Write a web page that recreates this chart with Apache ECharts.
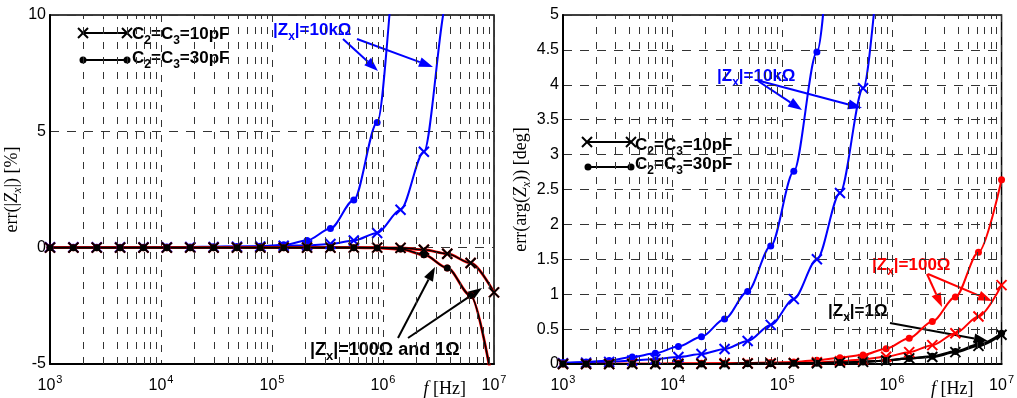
<!DOCTYPE html>
<html>
<head>
<meta charset="utf-8">
<script src="https://cdn.jsdelivr.net/npm/echarts@6/dist/echarts.min.js"></script>
<style>
html, body { margin: 0; padding: 0; background: #fff; }
#chart { width: 1017px; height: 398px; }
</style>
</head>
<body>
<div id="chart"></div>
<script>
// frequencies of the marked points [Hz]
const freq = [1000, 1624, 2637, 4281, 6952, 11288, 18330, 29764, 48329, 78476,
    127427, 206914, 335982, 545559, 885867, 1438450, 2335721, 3792690, 6158482, 10000000];

// left panel: err(|Zx|) [%]
const mag10k10pF = [0.02, 0.02, 0.02, 0.02, 0.02, 0.02, 0.03, 0.03, 0.04, 0.05, 0.08, 0.1, 0.16, 0.31, 0.63, 1.63, 4.12, 10.6, 27, 70];
const mag10k30pF = [0.02, 0.02, 0.02, 0.02, 0.02, 0.03, 0.03, 0.04, 0.05, 0.06, 0.12, 0.31, 0.82, 2.05, 5.38, 14, 36, 90, 230, 600];
// |Zx|=100 ohm and 1 ohm lie on top of each other
const magLow10pF = [0, 0, 0, 0, 0, 0, 0, 0, 0, 0, 0, 0, 0, 0, 0, -0.01, -0.09, -0.26, -0.66, -1.92];
const magLow30pF = [0, 0, 0, 0, 0, 0, 0, 0, 0, 0, 0, 0, 0, 0, -0.01, -0.06, -0.3, -0.87, -2.06, -6.2];

// right panel: err(arg(Zx)) [deg]
const ph10k10pF = [0.01, 0.02, 0.03, 0.05, 0.07, 0.1, 0.143, 0.215, 0.33, 0.56, 0.93, 1.5, 2.45, 3.95, 6.3, 10, 16, 26, 42, 68];
const ph10k30pF = [0.02, 0.03, 0.05, 0.1, 0.153, 0.25, 0.39, 0.645, 1.04, 1.69, 2.76, 4.47, 7.3, 12, 19, 31, 50, 80, 130, 210];
const ph100_10pF = [0, 0, 0, 0.005, 0.005, 0.005, 0.005, 0.01, 0.01, 0.01, 0.015, 0.025, 0.04, 0.065, 0.105, 0.17, 0.27, 0.44, 0.68, 1.13];
const ph100_30pF = [0, 0, 0.005, 0.005, 0.005, 0.01, 0.01, 0.01, 0.015, 0.02, 0.03, 0.055, 0.09, 0.13, 0.22, 0.37, 0.61, 0.96, 1.6, 2.64];
const ph1_10pF = [0, 0, 0, 0, 0, 0, 0, 0, 0.005, 0.005, 0.01, 0.01, 0.02, 0.03, 0.05, 0.08, 0.1, 0.17, 0.26, 0.42];
const ph1_30pF = [0, 0, 0, 0, 0, 0, 0, 0, 0.005, 0.005, 0.01, 0.01, 0.02, 0.03, 0.05, 0.08, 0.11, 0.18, 0.28, 0.44];

const BLUE = '#0000ff', RED = '#ff0000', BLACK = '#000000';
const crossPath = 'path://M0,0L10,10M10,0L0,10';

// dashed grid at 2..9 of every decade
const minorGrid = [];
for (let d = 1000; d < 1e7; d *= 10) {
    for (let k = 2; k <= 9; k++) minorGrid.push(k * d);
}

function curve(data, idx, color, mark, width) {
    const isX = mark === 'x';
    return {
        type: 'line',
        xAxisIndex: idx,
        yAxisIndex: idx,
        data: freq.map((f, i) => [f, data[i]]),
        smooth: 0.3,
        smoothMonotone: 'x',
        symbol: isX ? crossPath : 'circle',
        symbolSize: isX ? 10 : 7,
        showAllSymbol: true,
        clip: true,
        silent: true,
        lineStyle: {color: color, width: width},
        itemStyle: {color: color, borderColor: color, borderWidth: isX ? 2 : 0}
    };
}

function gridSeries(idx) {
    return {
        type: 'line',
        xAxisIndex: idx,
        yAxisIndex: idx,
        data: [],
        silent: true,
        markLine: {
            silent: true,
            symbol: ['none', 'none'],
            label: {show: false},
            lineStyle: {color: '#333', type: [7, 8], width: 1},
            data: minorGrid.map(v => ({xAxis: v}))
        }
    };
}

function xAxis(idx) {
    return {
        type: 'log',
        logBase: 10,
        gridIndex: idx,
        min: 1000,
        max: 1e7,
        splitNumber: 4,
        name: '{i|f} [Hz]',
        nameLocation: 'end',
        nameGap: -28,
        nameTextStyle: {
            fontFamily: 'Liberation Serif', fontSize: 18, color: '#000',
            align: 'right', verticalAlign: 'middle', padding: [50, 0, 0, 0],
            rich: {i: {fontFamily: 'Liberation Serif', fontSize: 18, fontStyle: 'italic', color: '#000'}}
        },
        axisLine: {show: true, onZero: false, lineStyle: {color: '#000', width: 2}},
        axisTick: {show: false},
        splitLine: {show: true, lineStyle: {color: '#333', type: [7, 8], width: 1}},
        axisLabel: {
            margin: 10,
            formatter: v => '{b|10}{e|' + Math.round(Math.log10(v)) + '}',
            rich: {
                b: {fontFamily: 'Liberation Sans', fontSize: 16, color: '#000', verticalAlign: 'bottom'},
                e: {fontFamily: 'Liberation Sans', fontSize: 11, color: '#000', verticalAlign: 'top', padding: [0, 0, 9, 1]}
            }
        }
    };
}

function yAxis(idx, min, max, interval, name, gap) {
    return {
        type: 'value',
        gridIndex: idx,
        min: min,
        max: max,
        interval: interval,
        name: name,
        nameLocation: 'middle',
        nameRotate: 90,
        nameGap: gap,
        nameTextStyle: {
            fontFamily: 'Liberation Serif', fontSize: 18, color: '#000',
            rich: {
                n: {fontFamily: 'Liberation Serif', fontSize: 18, color: '#000', verticalAlign: 'top'},
                i: {fontFamily: 'Liberation Serif', fontSize: 18, fontStyle: 'italic', color: '#000', verticalAlign: 'top'},
                s: {fontFamily: 'Liberation Serif', fontSize: 12, fontStyle: 'italic', color: '#000', verticalAlign: 'bottom', padding: [9, 0, 0, 0]}
            }
        },
        axisLine: {show: true, onZero: false, lineStyle: {color: '#000', width: 2}},
        axisTick: {show: false},
        splitLine: {show: true, lineStyle: {color: '#333', type: [9, 8], width: 1}},
        axisLabel: {margin: 4, fontFamily: 'Liberation Sans', fontSize: 16, color: '#000'}
    };
}

// annotation helpers (text + arrows)
function richLabel(x, y, text, color, size) {
    return {
        type: 'text', x: x, y: y, silent: true,
        style: {
            text: text, verticalAlign: 'top',
            rich: {
                m: {fontFamily: 'Liberation Sans', fontWeight: 'bold', fontSize: size, fill: color, verticalAlign: 'top'},
                s: {fontFamily: 'Liberation Sans', fontWeight: 'bold', fontSize: Math.round(size * 0.72), fill: color, verticalAlign: 'bottom', padding: [9, 0, 0, 0]}
            }
        }
    };
}

function arrow(x1, y1, x2, y2, color) {
    const a = Math.atan2(y2 - y1, x2 - x1), L = 14, W = 5;
    const c = Math.cos(a), s = Math.sin(a);
    const bx = x2 - L * c, by = y2 - L * s;
    return [
        {type: 'line', silent: true, shape: {x1: x1, y1: y1, x2: bx, y2: by}, style: {stroke: color, lineWidth: 2}},
        {type: 'polygon', silent: true, shape: {points: [[x2, y2], [bx + W * s, by - W * c], [bx - W * s, by + W * c]]}, style: {fill: color}}
    ];
}

function legendRow(x1, x2, y, mark, textX, textY, text) {
    const els = [{type: 'line', silent: true, shape: {x1: x1, y1: y, x2: x2, y2: y}, style: {stroke: '#000', lineWidth: 1.8}}];
    [x1, x2].forEach(x => {
        if (mark === 'x') {
            els.push({type: 'line', silent: true, shape: {x1: x - 5, y1: y - 5, x2: x + 5, y2: y + 5}, style: {stroke: '#000', lineWidth: 2}});
            els.push({type: 'line', silent: true, shape: {x1: x - 5, y1: y + 5, x2: x + 5, y2: y - 5}, style: {stroke: '#000', lineWidth: 2}});
        } else {
            els.push({type: 'circle', silent: true, shape: {cx: x, cy: y, r: 3.5}, style: {fill: '#000'}});
        }
    });
    els.push(richLabel(textX, textY, text, '#000', 17));
    return els;
}

const graphics = [].concat(
    legendRow(83, 127, 33, 'x', 132, 26, '{m|C}{s|2}{m|=C}{s|3}{m|=10pF}'),
    legendRow(83, 127, 60, 'o', 132, 50, '{m|C}{s|2}{m|=C}{s|3}{m|=30pF}'),
    legendRow(587, 631, 142, 'x', 635, 137, '{m|C}{s|2}{m|=C}{s|3}{m|=10pF}'),
    legendRow(588, 631, 167, 'o', 635, 156, '{m|C}{s|2}{m|=C}{s|3}{m|=30pF}'),
    [richLabel(273, 22, '{m||Z}{s|x}{m||=10kΩ}', BLUE, 17)],
    arrow(343, 39, 378, 71, BLUE),
    arrow(357, 39, 433, 67, BLUE),
    [richLabel(310, 341, '{m||Z}{s|x}{m||=100Ω and 1Ω}', BLACK, 18)],
    arrow(398, 338, 435, 267, BLACK),
    arrow(408, 338, 482, 288, BLACK),
    [richLabel(717, 68, '{m||Z}{s|x}{m||=10kΩ}', BLUE, 17)],
    arrow(758, 81, 802, 110, BLUE),
    arrow(760, 81, 862, 108, BLUE),
    [richLabel(872, 257, '{m||Z}{s|x}{m||=100Ω}', RED, 17)],
    arrow(927, 274, 942, 307, RED),
    arrow(928, 274, 992, 301, RED),
    [richLabel(828, 303, '{m||Z}{s|x}{m||=1Ω}', BLACK, 17)],
    arrow(890, 323, 988, 341, BLACK)
);

const chart = echarts.init(document.getElementById('chart'), null, {renderer: 'canvas'});
chart.setOption({
    animation: false,
    backgroundColor: '#fff',
    grid: [
        {left: 50, top: 15, width: 444, height: 349, show: true, borderColor: '#000', borderWidth: 1.5, backgroundColor: 'transparent'},
        {left: 563, top: 15, width: 445, height: 349, show: true, borderColor: '#000', borderWidth: 1.5, backgroundColor: 'transparent'}
    ],
    xAxis: [xAxis(0), xAxis(1)],
    yAxis: [
        yAxis(0, -5, 10, 5, '{n|err(|}{i|Z}{s|x}{n||) [%]}', 24),
        yAxis(1, 0, 5, 0.5, '{n|err(arg(}{i|Z}{s|x}{n|)) [deg]}', 30)
    ],
    series: [
        gridSeries(0),
        curve(mag10k10pF, 0, BLUE, 'x', 2),
        curve(mag10k30pF, 0, BLUE, 'o', 2),
        curve(magLow10pF, 0, RED, 'x', 2.8),
        curve(magLow30pF, 0, RED, 'o', 2.8),
        curve(magLow10pF, 0, BLACK, 'x', 1.6),
        curve(magLow30pF, 0, BLACK, 'o', 1.6),
        gridSeries(1),
        curve(ph10k10pF, 1, BLUE, 'x', 2),
        curve(ph10k30pF, 1, BLUE, 'o', 2),
        curve(ph100_10pF, 1, RED, 'x', 2),
        curve(ph100_30pF, 1, RED, 'o', 2),
        curve(ph1_10pF, 1, BLACK, 'x', 2.2),
        curve(ph1_30pF, 1, BLACK, 'o', 2.2)
    ],
    graphic: graphics
});
</script>
</body>
</html>
